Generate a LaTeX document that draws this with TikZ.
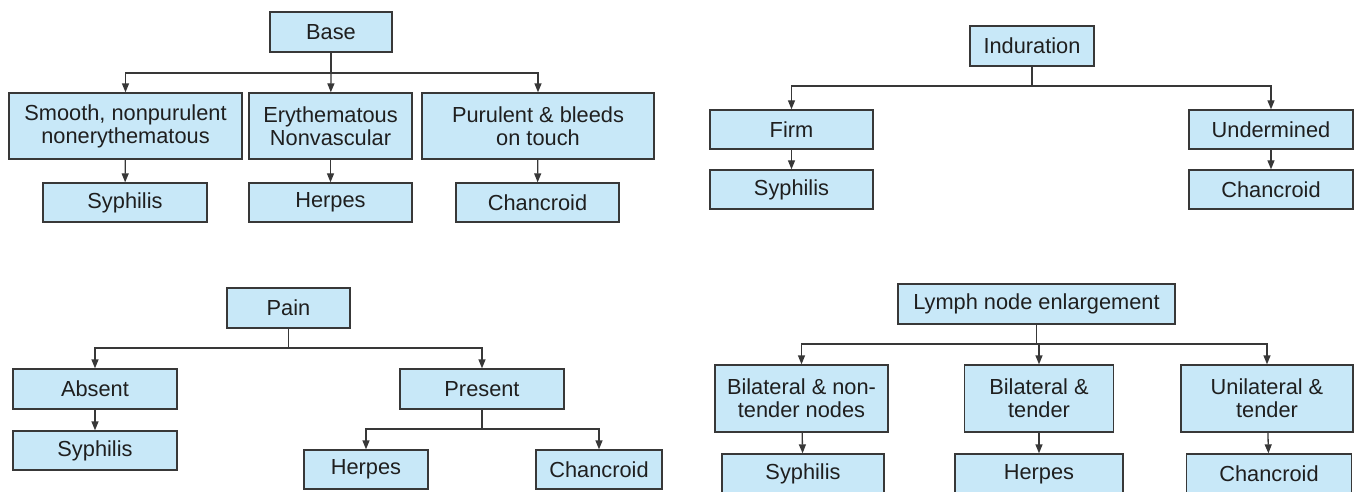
\documentclass[tikz,border=0pt]{standalone}
\usepackage{fontspec}
\setmainfont{Liberation Sans}
\usepackage{tikz}
\usetikzlibrary{arrows.meta,positioning,calc}

\definecolor{boxfill}{HTML}{C8E8F8}
\definecolor{boxline}{HTML}{383838}

\tikzset{
  box/.style={draw=boxline, fill=boxfill, line width=0.75pt, inner sep=0pt,
    align=center, minimum height=0.8cm, text=black!88,
    font=\fontsize{12.4}{13.2}\selectfont},
  arr/.style={draw=boxline, line width=0.75pt, -{Triangle[length=1.8mm,width=1.4mm]}},
  ln/.style={draw=boxline, line width=0.75pt}
}

\begin{document}
\begin{tikzpicture}[x=0.02cm, y=-0.02cm]
      \useasboundingbox (0,0) rectangle (1356,492);

      % base
      \node[box, minimum width=2.44cm] (base) at (331,32) {Base};
      \node[box, minimum width=4.66cm, minimum height=1.32cm] (smooth) at (125.5,126) {Smooth, nonpurulent\\nonerythematous};
      \node[box, minimum width=3.26cm, minimum height=1.32cm] (eryth) at (330.5,126) {Erythematous\\Nonvascular};
      \node[box, minimum width=4.64cm, minimum height=1.32cm] (purul) at (538,126) {Purulent \& bleeds\\on touch};
      \node[box, minimum width=3.28cm, minimum height=0.78cm] (syphA) at (125,202.5) {Syphilis};
      \node[box, minimum width=3.26cm, minimum height=0.78cm] (herpA) at (330.5,202.5) {Herpes};
      \node[box, minimum width=3.26cm, minimum height=0.78cm] (chanA) at (537.5,202.5) {Chancroid};

      \coordinate (baseJ) at (331,73);
      \draw[ln] (base) -- (baseJ);
      \draw[arr] (baseJ) -| (smooth);
      \draw[arr] (baseJ) -- (eryth);
      \draw[arr] (baseJ) -| (purul);
      \draw[arr] (smooth) -- (syphA);
      \draw[arr] (eryth) -- (herpA);
      \draw[arr] (purul) -- (chanA);

      % induration
      \node[box, minimum width=2.48cm] (indur) at (1032,46) {Induration};
      \node[box, minimum width=3.26cm, minimum height=0.78cm] (firm) at (791.5,129.5) {Firm};
      \node[box, minimum width=3.28cm, minimum height=0.78cm] (underm) at (1271,129.5) {Undermined};
      \node[box, minimum width=3.26cm, minimum height=0.78cm] (syphB) at (791.5,189.5) {Syphilis};
      \node[box, minimum width=3.28cm, minimum height=0.78cm] (chanB) at (1271,189.5) {Chancroid};

      \coordinate (indurJ) at (1032,86);
      \draw[ln] (indur) -- (indurJ);
      \draw[arr] (indurJ) -| (firm);
      \draw[arr] (indurJ) -| (underm);
      \draw[arr] (firm) -- (syphB);
      \draw[arr] (underm) -- (chanB);

      % pain
      \node[box, minimum width=2.46cm] (pain) at (288.5,308) {Pain};
      \node[box, minimum width=3.28cm] (absent) at (95,389) {Absent};
      \node[box, minimum width=3.28cm] (present) at (482,389) {Present};
      \node[box, minimum width=3.28cm, minimum height=0.78cm] (syphC) at (95,450.5) {Syphilis};
      \node[box, minimum width=2.48cm, minimum height=0.78cm] (herpC) at (366,469.5) {Herpes};
      \node[box, minimum width=2.52cm, minimum height=0.78cm] (chanC) at (599,469.5) {Chancroid};

      \coordinate (painJ) at (288.5,348);
      \coordinate (presJ) at (482,429);
      \draw[ln] (pain) -- (painJ);
      \draw[arr] (painJ) -| (absent);
      \draw[arr] (painJ) -| (present);
      \draw[arr] (absent) -- (syphC);
      \draw[ln] (present) -- (presJ);
      \draw[arr] (presJ) -| (herpC);
      \draw[arr] (presJ) -| (chanC);

      % lymph nodes
      \node[box, minimum width=5.54cm] (lymph) at (1036.5,304) {Lymph node enlargement};
      \node[box, minimum width=3.46cm, minimum height=1.34cm] (bilnt) at (801.5,398.5) {Bilateral \& non-\\tender nodes};
      \node[box, minimum width=2.98cm, minimum height=1.34cm] (bilt) at (1039,398.5) {Bilateral \&\\tender};
      \node[box, minimum width=3.44cm, minimum height=1.34cm] (unit) at (1267,398.5) {Unilateral \&\\tender};
      \node[box, minimum width=3.24cm] (syphD) at (803,474) {Syphilis};
      \node[box, minimum width=3.36cm] (herpD) at (1039,474) {Herpes};
      \node[box, minimum width=3.30cm] (chanD) at (1269,474) {Chancroid};

      \coordinate (lymphJ) at (1036.5,344);
      \draw[ln] (lymph) -- (lymphJ);
      \draw[arr] (lymphJ) -| (bilnt);
      \draw[arr] (lymphJ) -| (bilt);
      \draw[arr] (lymphJ) -| (unit);
      \draw[arr] (bilnt) -- (syphD);
      \draw[arr] (bilt) -- (herpD);
      \draw[arr] (unit) -- (chanD);
\end{tikzpicture}
\end{document}
